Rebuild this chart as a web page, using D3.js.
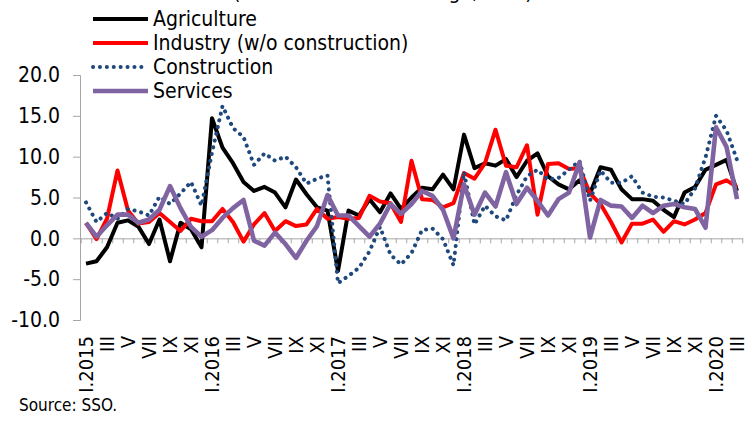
<!DOCTYPE html>
<html>
<head>
<meta charset="utf-8">
<script src="https://cdn.jsdelivr.net/npm/d3@7/dist/d3.min.js"></script>
<style>
body { margin: 0; background: #fff; }
text { font-family: "DejaVu Sans Condensed", "DejaVu Sans", sans-serif; fill: #000; }
</style>
</head>
<body>
<div id="chart"></div>
<script>
// Tick labels
var romans = ['I', 'II', 'III', 'IV', 'V', 'VI', 'VII', 'VIII', 'IX', 'X', 'XI', 'XII'];
var years = [2015, 2016, 2017, 2018, 2019, 2020];
var yTicks = [-10, -5, 0, 5, 10, 15, 20];

// Series (I.2015 - III.2020)
var agriculture = [-3.1, -2.8, -1.1, 1.9, 2.2, 1.4, -0.7, 2.3, -2.8, 1.9, 1.1, -1.1,
    14.7, 11.1, 9.2, 6.9, 5.8, 6.3, 5.6, 3.8, 7.2, 5.4, 3.8, 3.4,
    -4.0, 3.4, 2.8, 4.8, 3.2, 5.5, 3.6, 5.0, 6.2, 6.0, 7.8, 6.0,
    12.7, 8.6, 9.2, 8.9, 9.7, 7.5, 9.5, 10.4, 7.6, 6.6, 6.0, 7.1,
    5.5, 8.7, 8.4, 6.0, 4.8, 4.8, 4.6, 3.5, 2.6, 5.6, 6.3, 8.4,
    9.0, 9.6, 5.8];
var industry = [1.9, -0.1, 2.4, 8.3, 3.4, 1.8, 2.0, 3.1, 2.0, 0.9, 2.4, 2.1,
    2.1, 3.6, 2.0, -0.4, 1.7, 3.1, 0.9, 2.1, 1.5, 1.7, 3.6, 2.4,
    2.6, 2.4, 2.5, 5.2, 4.5, 4.3, 2.0, 9.5, 4.8, 4.7, 3.8, 4.3,
    8.0, 7.3, 9.2, 13.3, 8.9, 8.7, 11.4, 2.9, 9.1, 9.2, 8.5, 8.6,
    5.5, 4.2, 2.0, -0.5, 1.8, 1.8, 2.3, 0.8, 2.1, 1.7, 2.3, 3.1,
    6.6, 7.1, 6.3];
var construction = [4.4, 2.0, 3.1, 2.4, 3.6, 3.3, 2.8, 5.1, 4.2, 5.5, 6.9, 4.0,
    10.5, 16.2, 13.5, 12.4, 9.0, 10.4, 9.5, 10.0, 8.7, 6.7, 7.3, 7.7,
    -5.5, -4.6, -3.6, -1.6, 1.4, -2.0, -3.2, -1.8, 1.0, 1.2, -0.1, -3.3,
    8.1, 1.7, 4.0, 2.7, 2.2, 5.3, 7.6, 8.4, 7.2, 7.4, 8.4, 9.5,
    4.6, 8.3, 6.8, 6.8, 7.6, 5.6, 5.1, 5.0, 4.6, 4.2, 6.1, 9.9,
    15.0, 13.2, 9.6];
var services = [1.9, 0.2, 1.6, 2.9, 2.9, 1.9, 2.3, 3.5, 6.4, 3.7, 1.4, 0.2,
    1.0, 2.5, 3.7, 4.7, -0.3, -0.9, 0.7, -0.7, -2.4, -0.3, 1.5, 5.3,
    2.8, 2.8, 1.5, 0.2, 1.8, 4.2, 3.0, 4.2, 5.8, 5.2, 3.5, 0.0,
    6.6, 2.9, 5.6, 3.9, 8.1, 4.2, 6.2, 4.6, 2.8, 4.8, 5.6, 9.3,
    0.1, 4.7, 4.0, 3.9, 2.5, 4.0, 3.1, 4.0, 4.2, 3.8, 3.6, 1.3,
    13.6, 11.2, 4.8];

var seriesNames = ['Agriculture', 'Industry (w/o construction)', 'Construction', 'Services'];
var seriesColors = ['#000000', '#ff0000', '#1f497d', '#8064a2'];
var seriesValues = [agriculture, industry, construction, services];

// month labels
var months = [];
years.forEach(function(yr) {
    romans.forEach(function(r, m) {
        if (months.length < agriculture.length) months.push(m === 0 ? 'I.' + yr : r);
    });
});

var width = 747, height = 423;
var svg = d3.select('#chart').append('svg')
    .attr('width', width)
    .attr('height', height);

var plotLeft = 80.75, plotRight = 742.25;

var x = d3.scaleBand()
    .domain(d3.range(months.length))
    .range([plotLeft, plotRight])
    .padding(0);
var xEdge = d3.scaleLinear()
    .domain([0, months.length])
    .range([plotLeft, plotRight]);
var y = d3.scaleLinear()
    .domain([-10, 20])
    .range([320, 75]);

function cx(i) { return x(i) + x.bandwidth() / 2; }

// heading above the chart, cut off by the top edge
svg.append('text')
    .attr('x', 233)
    .attr('y', -1)
    .style('font-size', '21px')
    .text('(Real annual GVA change, in %)');

// Y axis
var yAxis = svg.append('g')
    .attr('transform', 'translate(80,0)')
    .call(d3.axisLeft(y)
        .tickValues(yTicks)
        .tickSize(7)
        .tickPadding(13)
        .tickFormat(function(d) { return d.toFixed(1); }));
yAxis.selectAll('path, line').attr('stroke', '#a6a6a6');
yAxis.selectAll('text')
    .style('font-size', '21px')
    .style('font-family', '"DejaVu Sans Condensed", "DejaVu Sans", sans-serif')
    .attr('fill', '#000');

// X axis on zero line, ticks between months
var xAxis = svg.append('g')
    .attr('transform', 'translate(0,' + y(0) + ')')
    .call(d3.axisBottom(xEdge)
        .tickValues(d3.range(months.length + 1))
        .tickSize(5)
        .tickSizeOuter(0)
        .tickFormat(''));
xAxis.selectAll('path, line').attr('stroke', '#a6a6a6');

// Month labels at the bottom, every second month
var labelData = months
    .map(function(d, i) { return {label: d, i: i}; })
    .filter(function(d) { return d.i % 2 === 0; });

svg.selectAll('.mlabel')
    .data(labelData)
    .enter()
    .append('text')
    .attr('class', 'mlabel')
    .attr('transform', function(d) { return 'translate(' + cx(d.i) + ',336) rotate(-90)'; })
    .attr('text-anchor', 'end')
    .attr('dy', '0.35em')
    .style('font-size', '20px')
    .text(function(d) { return d.label; });

// Lines
var line = d3.line()
    .x(function(d, i) { return cx(i); })
    .y(function(d) { return y(d); });

function styleSeries(sel, s) {
    sel.attr('stroke', seriesColors[s]);
    if (s === 2) {
        sel.attr('stroke-width', 4)
           .attr('stroke-linecap', 'round')
           .attr('stroke-dasharray', '0.1 6.8');
    } else {
        sel.attr('stroke-width', s === 3 ? 4.6 : 4);
    }
}

seriesValues.forEach(function(vals, s) {
    svg.append('path')
        .datum(vals)
        .attr('d', line)
        .attr('fill', 'none')
        .attr('stroke-linejoin', 'round')
        .call(styleSeries, s);
});

// Legend
var legend = svg.append('g');
seriesNames.forEach(function(name, s) {
    var ly = 19 + s * 24;
    legend.append('line')
        .attr('x1', 93).attr('x2', 148)
        .attr('y1', ly).attr('y2', ly)
        .call(styleSeries, s);
    legend.append('text')
        .attr('x', 153)
        .attr('y', ly)
        .attr('dy', '0.35em')
        .style('font-size', '21px')
        .text(name);
});

// Source
svg.append('text')
    .attr('x', 19)
    .attr('y', 411)
    .style('font-size', '17px')
    .text('Source: SSO.');
</script>
</body>
</html>
